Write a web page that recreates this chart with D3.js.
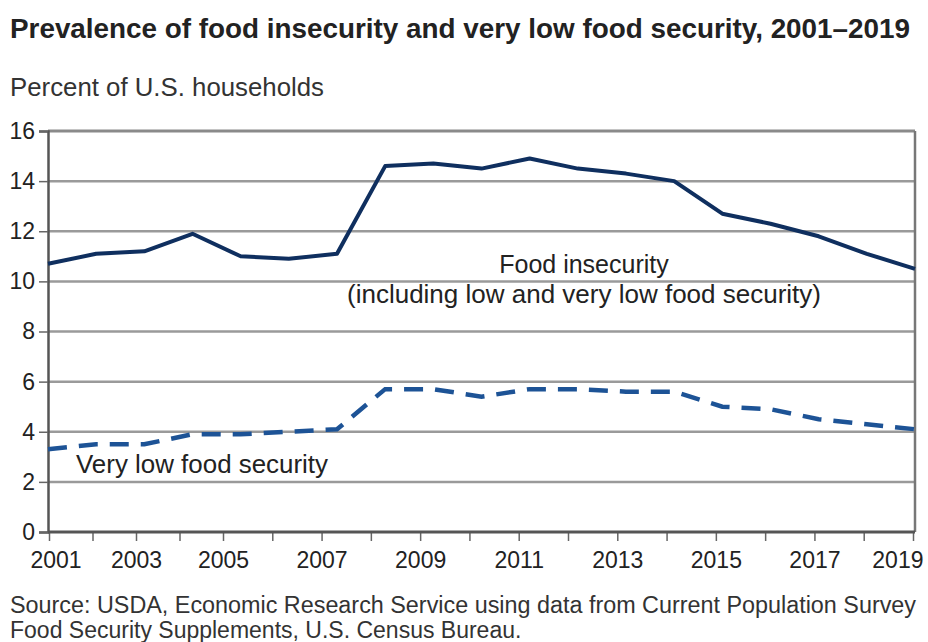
<!DOCTYPE html>
<html>
<head>
<meta charset="utf-8">
<script src="https://cdn.jsdelivr.net/npm/d3@7"></script>
<style>
  body { margin: 0; background: #fff; }
  text { font-family: "Liberation Sans", Arial, sans-serif; fill: #222; }
</style>
</head>
<body>
<svg width="928" height="642"></svg>
<script>
// values
const years = [2001, 2002, 2003, 2004, 2005, 2006, 2007, 2008, 2009, 2010,
               2011, 2012, 2013, 2014, 2015, 2016, 2017, 2018, 2019];
const foodInsecurity = [10.7, 11.1, 11.2, 11.9, 11.0, 10.9, 11.1, 14.6, 14.7, 14.5,
                        14.9, 14.5, 14.3, 14.0, 12.7, 12.3, 11.8, 11.1, 10.5];
const veryLow = [3.3, 3.5, 3.5, 3.9, 3.9, 4.0, 4.1, 5.7, 5.7, 5.4,
                 5.7, 5.7, 5.6, 5.6, 5.0, 4.9, 4.5, 4.3, 4.1];
const yTicks = [0, 2, 4, 6, 8, 10, 12, 14, 16];
const xLabels = [2001, 2003, 2005, 2007, 2009, 2011, 2013, 2015, 2017, 2019];

const svg = d3.select("svg");

const x = d3.scaleLinear().domain([2001, 2019]).range([48, 915]);
// the tick marks in the original are spaced a little unevenly at the left
const xTick = d3.scaleLinear().domain([2001, 2005, 2019]).range([49, 223, 913]);
const y = d3.scaleLinear().domain([0, 16]).range([532, 131]);

// title and subtitle
svg.append("text")
  .attr("x", 10).attr("y", 38)
  .attr("textLength", 900).attr("lengthAdjust", "spacingAndGlyphs")
  .style("font-size", "27px").style("font-weight", "bold")
  .text("Prevalence of food insecurity and very low food security, 2001\u20132019");

svg.append("text")
  .attr("x", 10).attr("y", 96)
  .attr("textLength", 314).attr("lengthAdjust", "spacingAndGlyphs")
  .style("font-size", "25px").style("fill", "#333")
  .text("Percent of U.S. households");

// gridlines
svg.append("g")
  .selectAll("line")
  .data(yTicks.filter(d => d > 0))
  .enter()
  .append("line")
  .attr("x1", x(2001)).attr("x2", x(2019))
  .attr("y1", d => y(d)).attr("y2", d => y(d))
  .attr("stroke", d => d == 16 ? "#8a8a8a" : "#9a9a9a")
  .attr("stroke-width", d => d == 16 ? 3 : 2.5);

// right frame
svg.append("line")
  .attr("x1", x(2019)).attr("x2", x(2019))
  .attr("y1", y(16)).attr("y2", y(0))
  .attr("stroke", "#777").attr("stroke-width", 2.5);

// y axis
const yAxis = svg.append("g")
  .attr("transform", "translate(48,0)")
  .call(d3.axisLeft(y).tickValues(yTicks).tickSize(9).tickPadding(4).tickFormat(d3.format("d")));

// x axis
const xAxis = svg.append("g")
  .attr("transform", "translate(0,532)")
  .call(d3.axisBottom(xTick).tickValues(years).tickSize(9).tickPadding(11)
    .tickFormat(d => xLabels.includes(d) ? d : ""));
xAxis.select(".domain").remove();

svg.append("line")
  .attr("x1", x(2001)).attr("x2", x(2019))
  .attr("y1", y(0)).attr("y2", y(0))
  .attr("stroke", "#555").attr("stroke-width", 3);

[yAxis, xAxis].forEach(function (g) {
  g.select(".domain").attr("stroke", "#555").attr("stroke-width", 2.5);
  g.selectAll(".tick line").attr("stroke", "#666").attr("stroke-width", 1.5);
  g.selectAll(".tick text")
    .style("font-size", "23px")
    .style("font-family", "'Liberation Sans', Arial, sans-serif")
    .attr("fill", "#222");
});

// keep the end labels inside the frame, as in the original
xAxis.selectAll(".tick text")
  .filter(d => d == 2001)
  .attr("text-anchor", "start").attr("x", -19);
xAxis.selectAll(".tick text")
  .filter(d => d == 2019)
  .attr("text-anchor", "end").attr("x", 10);

// lines
const line = d3.line()
  .x((d, i) => x(years[i]))
  .y(d => y(d));

svg.append("path")
  .datum(foodInsecurity)
  .attr("d", line)
  .attr("fill", "none")
  .attr("stroke", "#0f2f5f")
  .attr("stroke-width", 4)
  .attr("stroke-linejoin", "round");

svg.append("path")
  .datum(veryLow)
  .attr("d", line)
  .attr("fill", "none")
  .attr("stroke", "#1d5396")
  .attr("stroke-width", 4.5)
  .attr("stroke-dasharray", "19,12");

// series labels
svg.append("text")
  .attr("x", 584).attr("y", 273)
  .attr("text-anchor", "middle")
  .style("font-size", "25px")
  .text("Food insecurity");

svg.append("text")
  .attr("x", 584).attr("y", 303)
  .attr("text-anchor", "middle")
  .attr("textLength", 474).attr("lengthAdjust", "spacingAndGlyphs")
  .style("font-size", "25px")
  .text("(including low and very low food security)");

svg.append("text")
  .attr("x", 76).attr("y", 473)
  .attr("textLength", 252).attr("lengthAdjust", "spacingAndGlyphs")
  .style("font-size", "25px")
  .text("Very low food security");

// source
svg.append("text")
  .attr("x", 10).attr("y", 613)
  .attr("textLength", 906).attr("lengthAdjust", "spacingAndGlyphs")
  .style("font-size", "23px").style("fill", "#333")
  .text("Source: USDA, Economic Research Service using data from Current Population Survey");

svg.append("text")
  .attr("x", 10).attr("y", 638)
  .style("font-size", "23px").style("fill", "#333")
  .text("Food Security Supplements, U.S. Census Bureau.");
</script>
</body>
</html>
